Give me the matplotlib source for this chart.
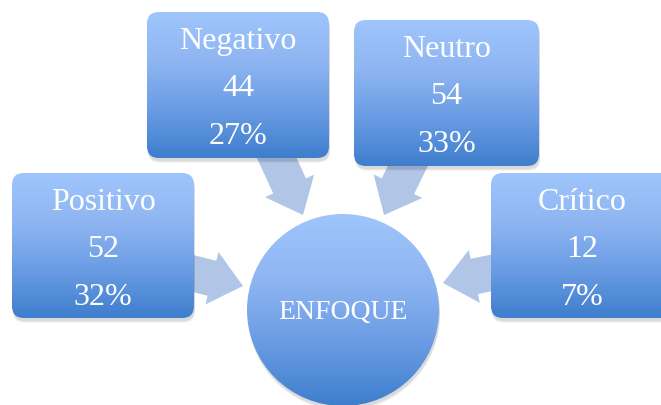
import numpy as np
import matplotlib
matplotlib.use("Agg")
import matplotlib.pyplot as plt
from matplotlib.patches import FancyBboxPatch, Circle, FancyArrow
from matplotlib.colors import LinearSegmentedColormap

# ---- data ----
categories = ["Positivo", "Negativo", "Neutro", "Crítico"]
counts = [52, 44, 54, 12]
percents = ["32%", "27%", "33%", "7%"]
center_label = "ENFOQUE"

# ---- layout (pixels) ----
W, H = 661, 406
boxes = {  # x0, y0, x1, y1
    "Positivo": (12, 174, 194, 319),
    "Negativo": (147, 13, 329, 159),
    "Neutro": (354, 21, 539, 167),
    "Crítico": (491, 174, 673, 319),
}
arrows = {  # tail, tip
    "Positivo": ((175, 270), (243, 287)),
    "Negativo": ((268, 140), (303, 216)),
    "Neutro": ((417, 148), (384, 216)),
    "Crítico": ((510, 270), (443, 284)),
}
circ_c, circ_r = (343, 311), 96

fig = plt.figure(figsize=(W / 100, H / 100), dpi=100)
ax = fig.add_axes([0, 0, 1, 1])
ax.set_xlim(0, W)
ax.set_ylim(H, 0)
ax.axis("off")

cmap = LinearSegmentedColormap.from_list(
    "g", ["#9fc5fc", "#8fb6f2", "#6a9ce4", "#3e7ecd"])
grad = np.linspace(0, 1, 256).reshape(-1, 1)

serif = ["Liberation Serif", "DejaVu Serif"]


def gradient_patch(patch, y0, y1, x0, x1, z):
    ax.add_patch(patch)
    im = ax.imshow(grad, cmap=cmap, extent=(x0, x1, y1, y0), aspect="auto",
                   zorder=z, interpolation="bicubic")
    im.set_clip_path(patch)


# arrows
for name in categories:
    (tx, ty), (hx, hy) = arrows[name]
    ar = FancyArrow(tx, ty, hx - tx, hy - ty, width=36, head_width=54,
                    head_length=32, length_includes_head=True,
                    color="#adc2e6", alpha=0.95, lw=0, zorder=2)
    ax.add_patch(ar)

# boxes
for i, name in enumerate(categories):
    x0, y0, x1, y1 = boxes[name]
    r = 12
    for k, a in enumerate([0.06, 0.05, 0.04]):
        sh = FancyBboxPatch((x0 + r + 1, y0 + r + 3 + k), x1 - x0 - 2 * r,
                            y1 - y0 - 2 * r,
                            boxstyle=f"round,pad={r}", fc="black", ec="none",
                            alpha=a, zorder=3)
        ax.add_patch(sh)
    p = FancyBboxPatch((x0 + r, y0 + r), x1 - x0 - 2 * r, y1 - y0 - 2 * r,
                       boxstyle=f"round,pad={r}", fc="none", ec="none",
                       zorder=4)
    gradient_patch(p, y0, y1, x0, x1, 4)
    cx = (x0 + x1) / 2
    for j, t in enumerate([name, str(counts[i]), percents[i]]):
        ax.text(cx, y0 + 36 + 47.5 * j, t, color="white", fontsize=23,
                family=serif, ha="center", va="baseline", zorder=6)

# circle
for k, a in enumerate([0.06, 0.05, 0.04]):
    ax.add_patch(Circle((circ_c[0] + 1, circ_c[1] + 3 + k), circ_r,
                        fc="black", ec="none", alpha=a, zorder=3))
c = Circle(circ_c, circ_r, fc="none", ec="none", zorder=4)
gradient_patch(c, circ_c[1] - circ_r, circ_c[1] + circ_r,
               circ_c[0] - circ_r, circ_c[0] + circ_r, 4)
ax.text(circ_c[0], 319, center_label, color="white", fontsize=20,
        family=serif, ha="center", va="baseline", zorder=6)

fig.savefig("out.png", dpi=100)
